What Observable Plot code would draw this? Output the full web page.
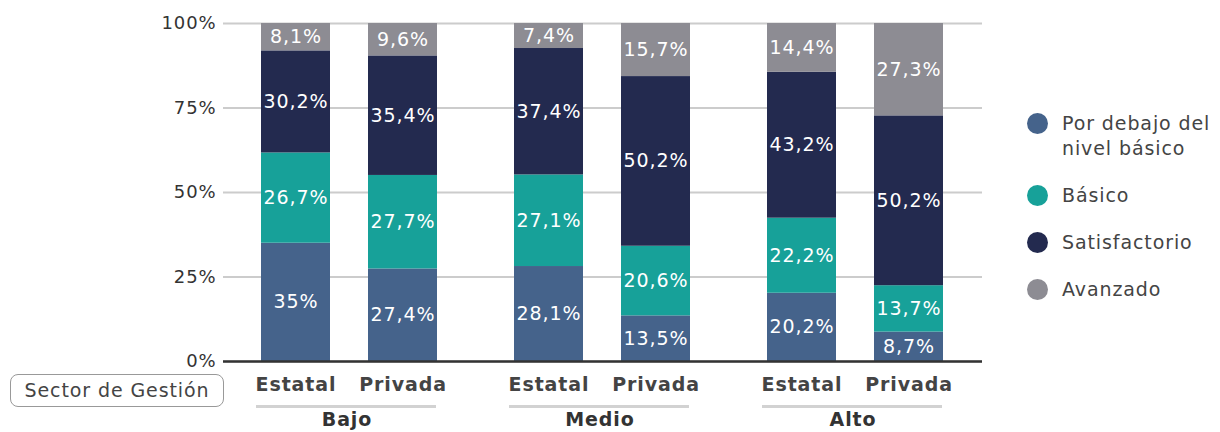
<!DOCTYPE html>
<html><head><meta charset="utf-8">
<script src="https://cdn.jsdelivr.net/npm/d3@7"></script>
<script src="https://cdn.jsdelivr.net/npm/@observablehq/plot@0.6"></script>
<style>
body{margin:0;background:#fff;font-family:"DejaVu Sans",sans-serif;}
#wrap{position:relative;width:1220px;height:432px;overflow:hidden;}
#wrap svg text{letter-spacing:0.9px;}
#legend{position:absolute;left:1026px;top:111px;color:#444;font-size:19px;letter-spacing:0.9px;}
.li{position:relative;padding-left:36px;line-height:25px;margin-bottom:22px;white-space:nowrap;}
.li span{position:absolute;left:1px;top:2px;width:21px;height:21px;border-radius:50%;}
#sector{position:absolute;left:10px;top:374px;width:214px;height:33px;border:1.3px solid #999;border-radius:8px;box-sizing:border-box;color:#444;font-size:19px;line-height:31px;text-align:center;letter-spacing:0.9px;}
</style></head>
<body><div id="wrap"></div>
<script>
const groups = ["Bajo", "Medio", "Alto"];
const sectors = ["Estatal", "Privada"];
const levels = ["Por debajo del nivel básico", "Básico", "Satisfactorio", "Avanzado"];
const colors = ["#45638b", "#17a199", "#232a4f", "#8d8c93"];
// values per level, order: Bajo-Estatal, Bajo-Privada, Medio-Estatal, Medio-Privada, Alto-Estatal, Alto-Privada
const porDebajo = [35, 27.4, 28.1, 13.5, 20.2, 8.7];
const basico = [26.7, 27.7, 27.1, 20.6, 22.2, 13.7];
const satisfactorio = [30.2, 35.4, 37.4, 50.2, 43.2, 50.2];
const avanzado = [8.1, 9.6, 7.4, 15.7, 14.4, 27.3];
const yTicks = [0, 0.25, 0.5, 0.75, 1];

const series = [porDebajo, basico, satisfactorio, avanzado];
const data = [];
series.forEach((vals, li) => {
  vals.forEach((v, i) => {
    data.push({
      group: groups[Math.floor(i / 2)],
      sector: sectors[i % 2],
      level: levels[li],
      value: v,
      label: String(v).replace(".", ",") + "%"
    });
  });
});

const chart = Plot.plot({
  width: 1220,
  height: 432,
  marginLeft: 222,
  marginRight: 237,
  marginTop: 23,
  marginBottom: 71,
  style: {fontFamily: "DejaVu Sans, sans-serif", fontSize: "19px", color: "#333", background: "#fff"},
  fx: {domain: groups, padding: 0, label: null},
  x: {domain: sectors, padding: 0.352, label: null},
  y: {domain: [0, 1], label: null},
  color: {domain: levels, range: colors},
  marks: [
    Plot.gridY(yTicks, {stroke: "#cccccc", strokeOpacity: 1, strokeWidth: 2}),
    Plot.axisY(yTicks, {tickFormat: d => Math.round(d * 100) + "%", tickSize: 0, tickPadding: 7, fontSize: 18, label: null, color: "#333"}),
    Plot.barY(data, Plot.stackY({fx: "group", x: "sector", y: "value", z: "level", fill: "level", order: levels, offset: "normalize", inset: 0})),
    Plot.text(data, Plot.stackY({fx: "group", x: "sector", y: "value", z: "level", order: levels, offset: "normalize", text: "label", fill: "white", fontSize: 19})),
    Plot.ruleY([0], {stroke: "#333", strokeWidth: 2.5}),
    Plot.ruleY([0], {dy: 45, insetLeft: 33, insetRight: 40, stroke: "#d2d2d2", strokeWidth: 3}),
    Plot.axisX({anchor: "bottom", tickSize: 0, tickPadding: 16, fontSize: 19, fontWeight: "bold", fill: "#444", label: null}),
    Plot.axisFx({anchor: "bottom", tickSize: 0, tickPadding: 51, fontSize: 19, fontWeight: "bold", fill: "#333", label: null, dx: -3})
  ]
});
const wrap = document.getElementById("wrap");
wrap.appendChild(chart);

const legend = document.createElement("div");
legend.id = "legend";
const legendLabels = ["Por debajo del<br>nivel básico", "Básico", "Satisfactorio", "Avanzado"];
levels.forEach((l, i) => {
  const d = document.createElement("div");
  d.className = "li";
  d.innerHTML = `<span style="background:${colors[i]}"></span>${legendLabels[i]}`;
  legend.appendChild(d);
});
wrap.appendChild(legend);

const sector = document.createElement("div");
sector.id = "sector";
sector.textContent = "Sector de Gestión";
wrap.appendChild(sector);
</script></body></html>
